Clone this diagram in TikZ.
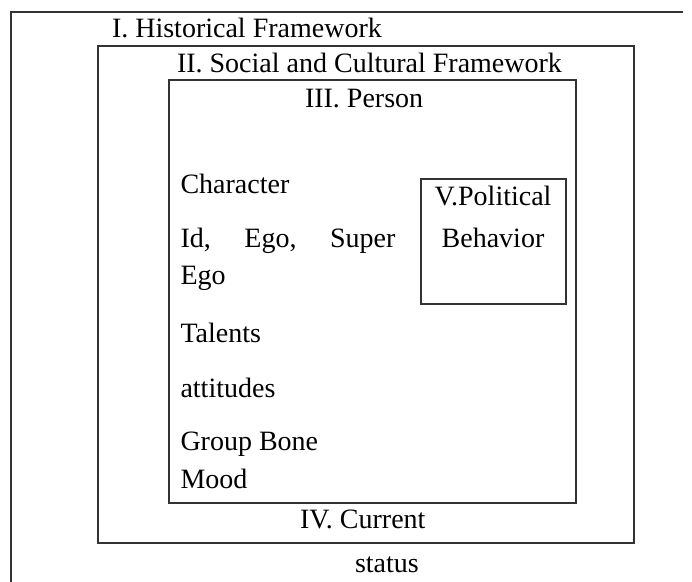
\documentclass[tikz,border=0pt]{standalone}
\usepackage{fontspec}
\setmainfont{Liberation Serif}
\begin{document}
\begin{tikzpicture}[x=1pt,y=-1pt,
  frame/.style={draw=black!80,line width=1.3pt},
  lbl/.style={anchor=base west,inner sep=0pt,outer sep=0pt,font=\fontsize{28}{33}\selectfont}]
\useasboundingbox (0,0) rectangle (692,581);
% outer frame (I), only top and left visible
\draw[frame] (683,12) -- (11,12) -- (11,590);
% box II
\draw[frame] (98,46) rectangle (634,543);
% box III
\draw[frame] (169,80) rectangle (576,503);
% box V
\draw[frame] (421,179) rectangle (566,304);
% labels
\node[lbl] (hist) at (112,37) {I. Historical Framework};
\node[lbl] (soc) at (177,72) {II. Social and Cultural Framework};
\node[lbl] (pers) at (305,107) {III. Person};
\node[lbl] (char) at (180.5,193) {Character};
\node[lbl] (ids) at (180.5,247) {\makebox[215pt][s]{Id, Ego, Super}};
\node[lbl] (ego) at (180.5,284) {Ego};
\node[lbl] (tal) at (180.5,342) {Talents};
\node[lbl] (att) at (180.5,397) {attitudes};
\node[lbl] (grp) at (180.5,450) {Group Bone};
\node[lbl] (mood) at (180.5,488) {Mood};
\node[lbl] (cur) at (300,528) {IV. Current};
\node[lbl] (stat) at (355,572) {status};
\node[lbl,anchor=base] (pol) at (493,205) {V.Political};
\node[lbl,anchor=base] (beh) at (493,247) {Behavior};
\end{tikzpicture}
\end{document}
